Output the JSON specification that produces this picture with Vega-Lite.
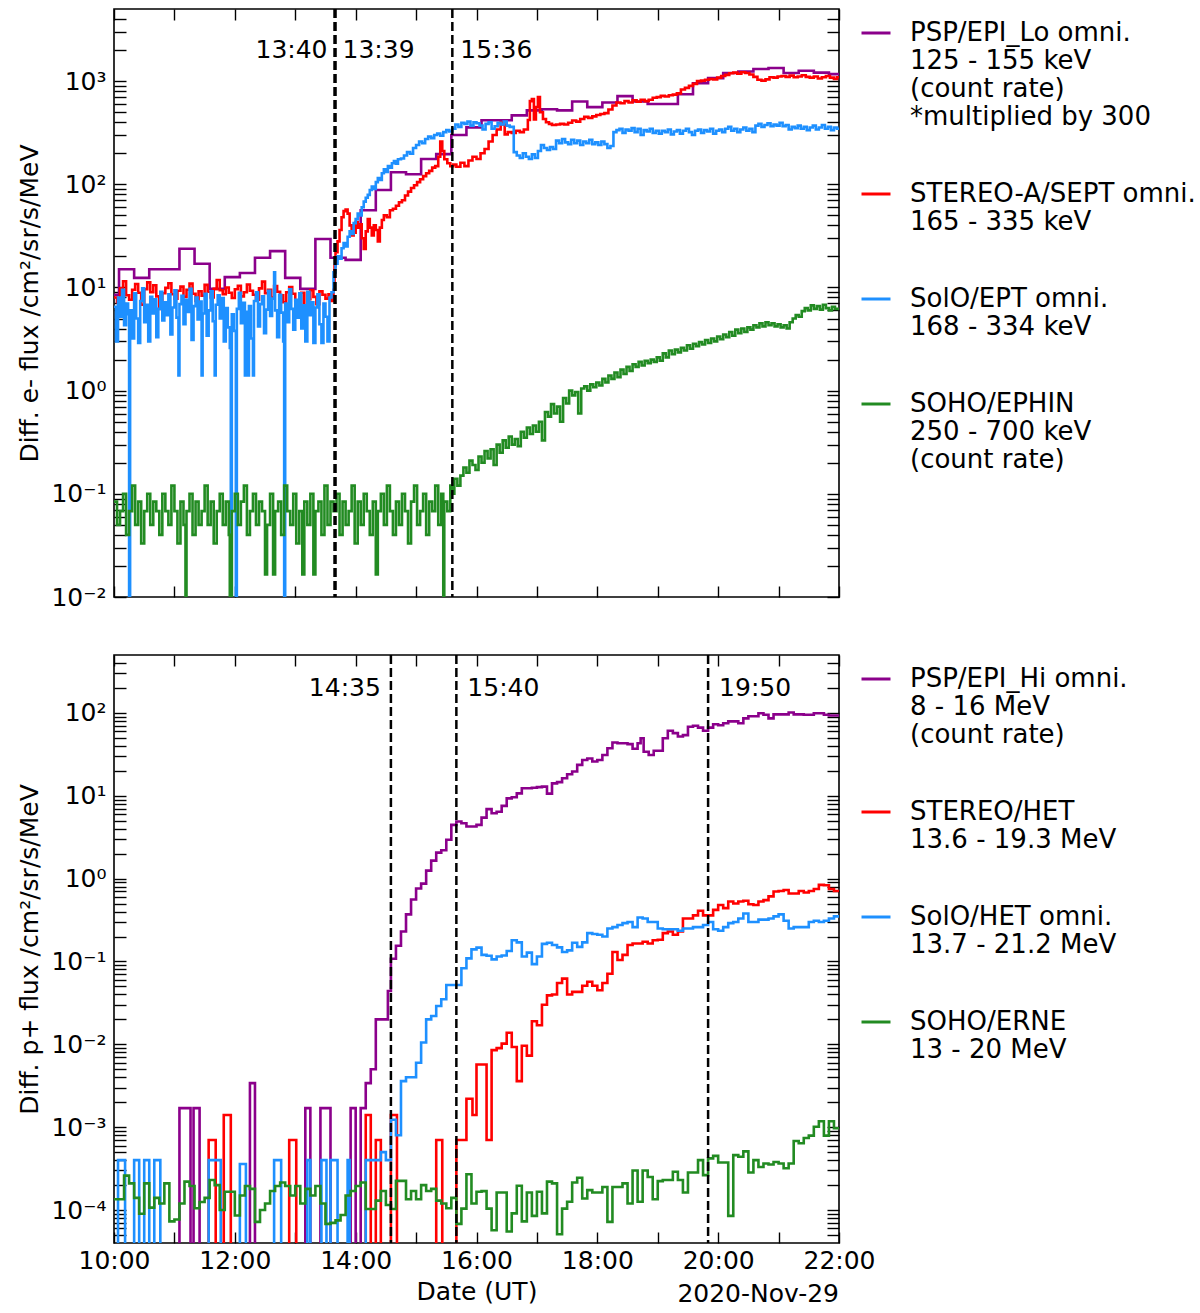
{
  "$schema": "https://vega.github.io/schema/vega-lite/v6.json",
  "padding": {"left": 17, "top": 6, "right": 0, "bottom": 0},
  "config": {
    "font": "DejaVu Sans",
    "view": {"stroke": "black", "strokeWidth": 1.6},
    "axis": {
      "labelFont": "DejaVu Sans", "titleFont": "DejaVu Sans",
      "labelFontSize": 25, "titleFontSize": 25, "titleFontWeight": "normal",
      "labelColor": "black", "titleColor": "black", "tickColor": "black",
      "tickWidth": 1.4, "domain": false, "grid": false, "labelFlush": false
    },
    "legend": {
      "orient": "right", "offset": 12, "padding": 8,
      "symbolType": "stroke", "symbolSize": 841, "symbolStrokeWidth": 3,
      "labelFont": "DejaVu Sans", "labelFontSize": 26, "labelColor": "black",
      "labelLimit": 400, "rowPadding": 48, "labelOffset": 18
    }
  },
  "datasets": {
    "top": [
      {"s":"P","t":"10:00","v":8.5},{"s":"P","t":"10:05","v":15},{"s":"P","t":"10:20","v":12.4},{"s":"P","t":"10:35","v":15},
      {"s":"P","t":"11:05","v":23.7},{"s":"P","t":"11:20","v":17},{"s":"P","t":"11:35","v":9.7},{"s":"P","t":"11:50","v":12.6},
      {"s":"P","t":"12:05","v":13.8},{"s":"P","t":"12:20","v":19.4},{"s":"P","t":"12:35","v":22.5},{"s":"P","t":"12:50","v":12.4},
      {"s":"P","t":"13:05","v":9.7},{"s":"P","t":"13:20","v":29.5},{"s":"P","t":"13:35","v":19.4},{"s":"P","t":"13:50","v":18.5},
      {"s":"P","t":"14:05","v":56},{"s":"P","t":"14:20","v":88},{"s":"P","t":"14:35","v":131},{"s":"P","t":"14:50","v":125},
      {"s":"P","t":"15:05","v":176},{"s":"P","t":"15:20","v":196},{"s":"P","t":"15:35","v":300},{"s":"P","t":"15:50","v":356},
      {"s":"P","t":"16:05","v":418},{"s":"P","t":"16:35","v":466},{"s":"P","t":"16:50","v":520},{"s":"P","t":"17:05","v":534},
      {"s":"P","t":"17:20","v":520},{"s":"P","t":"17:35","v":635},{"s":"P","t":"17:50","v":560},{"s":"P","t":"18:05","v":620},
      {"s":"P","t":"18:20","v":715},{"s":"P","t":"18:35","v":635},{"s":"P","t":"18:50","v":600},{"s":"P","t":"19:20","v":745},
      {"s":"P","t":"19:35","v":955},{"s":"P","t":"19:50","v":1070},{"s":"P","t":"20:05","v":1200},{"s":"P","t":"20:20","v":1240},
      {"s":"P","t":"20:35","v":1310},{"s":"P","t":"20:50","v":1340},{"s":"P","t":"21:05","v":1200},{"s":"P","t":"21:20","v":1260},
      {"s":"P","t":"21:35","v":1210},{"s":"P","t":"21:50","v":1170},{"s":"P","t":"22:00","v":1170},

      {"s":"R","t":"10:00","v":8.0},{"s":"R","t":"10:03","v":7.2},{"s":"R","t":"10:06","v":9.8},{"s":"R","t":"10:09","v":11.5},
      {"s":"R","t":"10:12","v":8.4},{"s":"R","t":"10:15","v":7.6},{"s":"R","t":"10:18","v":9.5},{"s":"R","t":"10:21","v":10.8},
      {"s":"R","t":"10:24","v":8.9},{"s":"R","t":"10:27","v":6.8},{"s":"R","t":"10:30","v":9.6},{"s":"R","t":"10:33","v":11.2},
      {"s":"R","t":"10:36","v":9.0},{"s":"R","t":"10:39","v":10.5},{"s":"R","t":"10:42","v":8.2},{"s":"R","t":"10:45","v":6.2},
      {"s":"R","t":"10:48","v":8.8},{"s":"R","t":"10:51","v":9.9},{"s":"R","t":"10:54","v":11.0},{"s":"R","t":"10:57","v":8.6},
      {"s":"R","t":"11:00","v":7.8},{"s":"R","t":"11:03","v":9.3},{"s":"R","t":"11:06","v":10.2},{"s":"R","t":"11:09","v":8.1},
      {"s":"R","t":"11:12","v":9.5},{"s":"R","t":"11:15","v":10.9},{"s":"R","t":"11:18","v":8.7},{"s":"R","t":"11:21","v":7.4},
      {"s":"R","t":"11:24","v":9.2},{"s":"R","t":"11:27","v":8.3},{"s":"R","t":"11:30","v":10.6},{"s":"R","t":"11:33","v":9.1},
      {"s":"R","t":"11:36","v":8.0},{"s":"R","t":"11:39","v":9.7},{"s":"R","t":"11:42","v":11.8},{"s":"R","t":"11:45","v":9.4},
      {"s":"R","t":"11:48","v":8.6},{"s":"R","t":"11:51","v":10.0},{"s":"R","t":"11:54","v":8.9},{"s":"R","t":"11:57","v":7.9},
      {"s":"R","t":"12:00","v":9.6},{"s":"R","t":"12:03","v":10.4},{"s":"R","t":"12:06","v":8.2},{"s":"R","t":"12:09","v":9.0},
      {"s":"R","t":"12:12","v":10.7},{"s":"R","t":"12:15","v":9.3},{"s":"R","t":"12:18","v":8.5},{"s":"R","t":"12:21","v":7.6},
      {"s":"R","t":"12:24","v":9.8},{"s":"R","t":"12:27","v":11.4},{"s":"R","t":"12:30","v":8.8},{"s":"R","t":"12:33","v":9.5},
      {"s":"R","t":"12:36","v":8.0},{"s":"R","t":"12:39","v":10.3},{"s":"R","t":"12:42","v":9.1},{"s":"R","t":"12:45","v":8.4},
      {"s":"R","t":"12:48","v":7.2},{"s":"R","t":"12:51","v":9.0},{"s":"R","t":"12:54","v":10.1},{"s":"R","t":"12:57","v":8.7},
      {"s":"R","t":"13:00","v":7.5},{"s":"R","t":"13:03","v":6.4},{"s":"R","t":"13:06","v":8.9},{"s":"R","t":"13:09","v":5.8},
      {"s":"R","t":"13:12","v":7.7},{"s":"R","t":"13:15","v":9.4},{"s":"R","t":"13:18","v":8.1},{"s":"R","t":"13:21","v":6.9},
      {"s":"R","t":"13:24","v":9.2},{"s":"R","t":"13:27","v":8.5},{"s":"R","t":"13:30","v":7.8},{"s":"R","t":"13:33","v":8.6},
      {"s":"R","t":"13:36","v":7.4},{"s":"R","t":"13:38","v":9.5},{"s":"R","t":"13:39","v":16},{"s":"R","t":"13:40","v":22},
      {"s":"R","t":"13:42","v":28},{"s":"R","t":"13:44","v":36},{"s":"R","t":"13:46","v":48},{"s":"R","t":"13:48","v":55},
      {"s":"R","t":"13:50","v":57},{"s":"R","t":"13:52","v":52},{"s":"R","t":"13:54","v":40},{"s":"R","t":"13:56","v":32},
      {"s":"R","t":"13:58","v":34},{"s":"R","t":"14:00","v":43},{"s":"R","t":"14:02","v":38},{"s":"R","t":"14:04","v":41},
      {"s":"R","t":"14:06","v":30},{"s":"R","t":"14:08","v":23.6},{"s":"R","t":"14:10","v":35},{"s":"R","t":"14:12","v":46},
      {"s":"R","t":"14:14","v":38},{"s":"R","t":"14:16","v":32},{"s":"R","t":"14:18","v":40},{"s":"R","t":"14:20","v":36},
      {"s":"R","t":"14:22","v":28},{"s":"R","t":"14:24","v":38},{"s":"R","t":"14:26","v":45},{"s":"R","t":"14:28","v":50},
      {"s":"R","t":"14:31","v":48},{"s":"R","t":"14:34","v":56},{"s":"R","t":"14:37","v":58},{"s":"R","t":"14:40","v":62},
      {"s":"R","t":"14:43","v":67},{"s":"R","t":"14:46","v":70},{"s":"R","t":"14:49","v":78},{"s":"R","t":"14:52","v":85},
      {"s":"R","t":"14:55","v":92},{"s":"R","t":"14:58","v":98},{"s":"R","t":"15:01","v":105},{"s":"R","t":"15:04","v":112},
      {"s":"R","t":"15:07","v":120},{"s":"R","t":"15:10","v":128},{"s":"R","t":"15:13","v":135},{"s":"R","t":"15:16","v":145},
      {"s":"R","t":"15:19","v":150},{"s":"R","t":"15:22","v":185},{"s":"R","t":"15:24","v":260},{"s":"R","t":"15:26","v":210},
      {"s":"R","t":"15:28","v":175},{"s":"R","t":"15:31","v":160},{"s":"R","t":"15:34","v":150},{"s":"R","t":"15:37","v":155},
      {"s":"R","t":"15:40","v":148},{"s":"R","t":"15:44","v":162},{"s":"R","t":"15:48","v":150},{"s":"R","t":"15:52","v":170},
      {"s":"R","t":"15:56","v":185},{"s":"R","t":"16:00","v":176},{"s":"R","t":"16:04","v":200},{"s":"R","t":"16:08","v":220},
      {"s":"R","t":"16:12","v":260},{"s":"R","t":"16:16","v":300},{"s":"R","t":"16:20","v":340},{"s":"R","t":"16:24","v":400},
      {"s":"R","t":"16:26","v":380},{"s":"R","t":"16:28","v":305},{"s":"R","t":"16:31","v":320},{"s":"R","t":"16:35","v":315},
      {"s":"R","t":"16:39","v":330},{"s":"R","t":"16:43","v":320},{"s":"R","t":"16:47","v":340},{"s":"R","t":"16:51","v":420},
      {"s":"R","t":"16:53","v":640},{"s":"R","t":"16:55","v":670},{"s":"R","t":"16:57","v":425},{"s":"R","t":"16:59","v":560},
      {"s":"R","t":"17:01","v":700},{"s":"R","t":"17:03","v":500},{"s":"R","t":"17:06","v":430},{"s":"R","t":"17:09","v":400},
      {"s":"R","t":"17:12","v":385},{"s":"R","t":"17:15","v":375},{"s":"R","t":"17:19","v":380},{"s":"R","t":"17:23","v":385},
      {"s":"R","t":"17:27","v":380},{"s":"R","t":"17:31","v":395},{"s":"R","t":"17:35","v":415},{"s":"R","t":"17:39","v":405},
      {"s":"R","t":"17:43","v":430},{"s":"R","t":"17:47","v":450},{"s":"R","t":"17:51","v":440},{"s":"R","t":"17:55","v":455},
      {"s":"R","t":"17:59","v":470},{"s":"R","t":"18:03","v":480},{"s":"R","t":"18:07","v":490},{"s":"R","t":"18:11","v":530},
      {"s":"R","t":"18:15","v":580},{"s":"R","t":"18:19","v":620},{"s":"R","t":"18:23","v":610},{"s":"R","t":"18:27","v":640},
      {"s":"R","t":"18:31","v":620},{"s":"R","t":"18:35","v":650},{"s":"R","t":"18:39","v":630},{"s":"R","t":"18:43","v":660},
      {"s":"R","t":"18:47","v":640},{"s":"R","t":"18:51","v":660},{"s":"R","t":"18:55","v":690},{"s":"R","t":"18:59","v":700},
      {"s":"R","t":"19:03","v":720},{"s":"R","t":"19:07","v":710},{"s":"R","t":"19:11","v":730},{"s":"R","t":"19:15","v":740},
      {"s":"R","t":"19:19","v":760},{"s":"R","t":"19:23","v":830},{"s":"R","t":"19:27","v":860},{"s":"R","t":"19:31","v":900},
      {"s":"R","t":"19:35","v":940},{"s":"R","t":"19:39","v":1000},{"s":"R","t":"19:43","v":1010},{"s":"R","t":"19:47","v":1030},
      {"s":"R","t":"19:51","v":1050},{"s":"R","t":"19:55","v":1040},{"s":"R","t":"19:59","v":1080},{"s":"R","t":"20:03","v":1120},
      {"s":"R","t":"20:07","v":1150},{"s":"R","t":"20:11","v":1190},{"s":"R","t":"20:15","v":1210},{"s":"R","t":"20:19","v":1180},
      {"s":"R","t":"20:23","v":1220},{"s":"R","t":"20:27","v":1200},{"s":"R","t":"20:31","v":1160},{"s":"R","t":"20:35","v":1100},
      {"s":"R","t":"20:39","v":1030},{"s":"R","t":"20:43","v":1010},{"s":"R","t":"20:47","v":1040},{"s":"R","t":"20:51","v":1090},
      {"s":"R","t":"20:55","v":1080},{"s":"R","t":"20:59","v":1110},{"s":"R","t":"21:03","v":1120},{"s":"R","t":"21:07","v":1100},
      {"s":"R","t":"21:11","v":1130},{"s":"R","t":"21:15","v":1090},{"s":"R","t":"21:19","v":1110},{"s":"R","t":"21:23","v":1140},
      {"s":"R","t":"21:27","v":1100},{"s":"R","t":"21:31","v":1080},{"s":"R","t":"21:35","v":1110},{"s":"R","t":"21:39","v":1060},
      {"s":"R","t":"21:43","v":1090},{"s":"R","t":"21:47","v":1120},{"s":"R","t":"21:51","v":1080},{"s":"R","t":"21:55","v":1050},
      {"s":"R","t":"21:58","v":1090},{"s":"R","t":"22:00","v":1080},

      {"s":"B","t":"10:00","v":6.5},{"s":"B","t":"10:02","v":3.0},{"s":"B","t":"10:04","v":8.0},{"s":"B","t":"10:06","v":5.2},
      {"s":"B","t":"10:08","v":9.5},{"s":"B","t":"10:10","v":4.3},{"s":"B","t":"10:12","v":7.0},{"s":"B","t":"10:14","v":5.5},
      {"s":"B","t":"10:15","v":1e-9},{"s":"B","t":"10:16","v":6.0},{"s":"B","t":"10:18","v":3.2},{"s":"B","t":"10:20","v":8.8},
      {"s":"B","t":"10:22","v":5.0},{"s":"B","t":"10:24","v":2.9},{"s":"B","t":"10:26","v":7.4},{"s":"B","t":"10:28","v":9.8},
      {"s":"B","t":"10:30","v":4.6},{"s":"B","t":"10:32","v":6.8},{"s":"B","t":"10:34","v":3.0},{"s":"B","t":"10:36","v":8.1},
      {"s":"B","t":"10:38","v":5.6},{"s":"B","t":"10:40","v":7.7},{"s":"B","t":"10:42","v":3.3},{"s":"B","t":"10:44","v":6.2},
      {"s":"B","t":"10:46","v":9.1},{"s":"B","t":"10:48","v":4.8},{"s":"B","t":"10:50","v":7.2},{"s":"B","t":"10:52","v":5.4},
      {"s":"B","t":"10:54","v":8.6},{"s":"B","t":"10:56","v":3.5},{"s":"B","t":"10:58","v":6.4},{"s":"B","t":"11:00","v":9.4},
      {"s":"B","t":"11:02","v":5.1},{"s":"B","t":"11:04","v":1.4},{"s":"B","t":"11:05","v":6.9},{"s":"B","t":"11:07","v":8.3},
      {"s":"B","t":"11:09","v":4.4},{"s":"B","t":"11:11","v":7.6},{"s":"B","t":"11:13","v":5.8},{"s":"B","t":"11:15","v":9.7},
      {"s":"B","t":"11:17","v":3.1},{"s":"B","t":"11:19","v":6.6},{"s":"B","t":"11:21","v":8.0},{"s":"B","t":"11:23","v":4.9},
      {"s":"B","t":"11:25","v":7.3},{"s":"B","t":"11:27","v":1.4},{"s":"B","t":"11:28","v":5.6},{"s":"B","t":"11:30","v":8.7},
      {"s":"B","t":"11:32","v":3.4},{"s":"B","t":"11:34","v":6.0},{"s":"B","t":"11:36","v":9.2},{"s":"B","t":"11:38","v":4.7},
      {"s":"B","t":"11:40","v":1.4},{"s":"B","t":"11:41","v":6.8},{"s":"B","t":"11:43","v":8.4},{"s":"B","t":"11:45","v":5.0},
      {"s":"B","t":"11:47","v":7.9},{"s":"B","t":"11:49","v":3.0},{"s":"B","t":"11:51","v":6.3},{"s":"B","t":"11:53","v":4.1},
      {"s":"B","t":"11:55","v":2.6},{"s":"B","t":"11:56","v":1e-9},{"s":"B","t":"11:57","v":5.5},{"s":"B","t":"11:59","v":3.8},
      {"s":"B","t":"12:01","v":1e-9},{"s":"B","t":"12:02","v":6.2},{"s":"B","t":"12:04","v":8.9},{"s":"B","t":"12:06","v":4.5},
      {"s":"B","t":"12:08","v":7.1},{"s":"B","t":"12:10","v":1.4},{"s":"B","t":"12:11","v":5.8},{"s":"B","t":"12:13","v":1.4},
      {"s":"B","t":"12:14","v":6.6},{"s":"B","t":"12:16","v":3.2},{"s":"B","t":"12:18","v":1.4},{"s":"B","t":"12:19","v":7.4},
      {"s":"B","t":"12:21","v":9.0},{"s":"B","t":"12:23","v":4.2},{"s":"B","t":"12:25","v":6.9},{"s":"B","t":"12:27","v":8.2},
      {"s":"B","t":"12:29","v":3.6},{"s":"B","t":"12:31","v":6.1},{"s":"B","t":"12:33","v":9.3},{"s":"B","t":"12:35","v":5.3},
      {"s":"B","t":"12:37","v":7.8},{"s":"B","t":"12:39","v":14},{"s":"B","t":"12:40","v":6.0},{"s":"B","t":"12:42","v":3.3},
      {"s":"B","t":"12:44","v":8.5},{"s":"B","t":"12:46","v":5.7},{"s":"B","t":"12:48","v":3.0},{"s":"B","t":"12:49","v":1e-9},
      {"s":"B","t":"12:50","v":7.0},{"s":"B","t":"12:52","v":4.6},{"s":"B","t":"12:54","v":9.6},{"s":"B","t":"12:56","v":6.2},
      {"s":"B","t":"12:58","v":3.9},{"s":"B","t":"13:00","v":7.6},{"s":"B","t":"13:02","v":5.1},{"s":"B","t":"13:04","v":8.8},
      {"s":"B","t":"13:06","v":4.0},{"s":"B","t":"13:08","v":6.7},{"s":"B","t":"13:10","v":3.0},{"s":"B","t":"13:12","v":9.1},
      {"s":"B","t":"13:14","v":5.4},{"s":"B","t":"13:16","v":7.2},{"s":"B","t":"13:18","v":2.9},{"s":"B","t":"13:20","v":6.4},
      {"s":"B","t":"13:22","v":8.6},{"s":"B","t":"13:24","v":4.4},{"s":"B","t":"13:26","v":2.9},{"s":"B","t":"13:28","v":7.0},
      {"s":"B","t":"13:30","v":5.2},{"s":"B","t":"13:32","v":3.0},{"s":"B","t":"13:34","v":8.0},{"s":"B","t":"13:36","v":9},
      {"s":"B","t":"13:38","v":14},{"s":"B","t":"13:40","v":17},{"s":"B","t":"13:42","v":20},{"s":"B","t":"13:44","v":19},
      {"s":"B","t":"13:46","v":24},{"s":"B","t":"13:48","v":27},{"s":"B","t":"13:50","v":25},{"s":"B","t":"13:52","v":31},
      {"s":"B","t":"13:54","v":35},{"s":"B","t":"13:56","v":33},{"s":"B","t":"13:58","v":42},{"s":"B","t":"14:00","v":46},
      {"s":"B","t":"14:02","v":52},{"s":"B","t":"14:04","v":50},{"s":"B","t":"14:06","v":60},{"s":"B","t":"14:08","v":68},
      {"s":"B","t":"14:10","v":74},{"s":"B","t":"14:12","v":79},{"s":"B","t":"14:14","v":88},{"s":"B","t":"14:16","v":95},
      {"s":"B","t":"14:18","v":90},{"s":"B","t":"14:20","v":105},{"s":"B","t":"14:22","v":115},{"s":"B","t":"14:24","v":110},
      {"s":"B","t":"14:26","v":128},{"s":"B","t":"14:28","v":140},{"s":"B","t":"14:30","v":132},{"s":"B","t":"14:32","v":150},
      {"s":"B","t":"14:34","v":145},{"s":"B","t":"14:36","v":160},{"s":"B","t":"14:38","v":168},{"s":"B","t":"14:40","v":158},
      {"s":"B","t":"14:42","v":175},{"s":"B","t":"14:45","v":178},{"s":"B","t":"14:48","v":190},{"s":"B","t":"14:51","v":205},
      {"s":"B","t":"14:54","v":198},{"s":"B","t":"14:57","v":225},{"s":"B","t":"15:00","v":240},{"s":"B","t":"15:03","v":260},
      {"s":"B","t":"15:06","v":250},{"s":"B","t":"15:09","v":275},{"s":"B","t":"15:12","v":290},{"s":"B","t":"15:15","v":280},
      {"s":"B","t":"15:18","v":300},{"s":"B","t":"15:21","v":310},{"s":"B","t":"15:24","v":295},{"s":"B","t":"15:27","v":320},
      {"s":"B","t":"15:30","v":335},{"s":"B","t":"15:33","v":325},{"s":"B","t":"15:36","v":345},{"s":"B","t":"15:39","v":380},
      {"s":"B","t":"15:42","v":360},{"s":"B","t":"15:45","v":395},{"s":"B","t":"15:48","v":385},{"s":"B","t":"15:51","v":405},
      {"s":"B","t":"15:54","v":370},{"s":"B","t":"15:57","v":400},{"s":"B","t":"16:00","v":390},{"s":"B","t":"16:03","v":370},
      {"s":"B","t":"16:06","v":340},{"s":"B","t":"16:09","v":385},{"s":"B","t":"16:12","v":400},{"s":"B","t":"16:15","v":345},
      {"s":"B","t":"16:18","v":365},{"s":"B","t":"16:21","v":395},{"s":"B","t":"16:24","v":380},{"s":"B","t":"16:27","v":405},
      {"s":"B","t":"16:30","v":370},{"s":"B","t":"16:33","v":360},{"s":"B","t":"16:37","v":205},{"s":"B","t":"16:40","v":190},
      {"s":"B","t":"16:43","v":180},{"s":"B","t":"16:46","v":200},{"s":"B","t":"16:49","v":185},{"s":"B","t":"16:52","v":176},
      {"s":"B","t":"16:55","v":195},{"s":"B","t":"16:58","v":180},{"s":"B","t":"17:01","v":210},{"s":"B","t":"17:04","v":240},
      {"s":"B","t":"17:07","v":225},{"s":"B","t":"17:10","v":215},{"s":"B","t":"17:13","v":230},{"s":"B","t":"17:16","v":220},
      {"s":"B","t":"17:19","v":265},{"s":"B","t":"17:22","v":250},{"s":"B","t":"17:25","v":275},{"s":"B","t":"17:28","v":255},
      {"s":"B","t":"17:31","v":245},{"s":"B","t":"17:34","v":270},{"s":"B","t":"17:37","v":250},{"s":"B","t":"17:40","v":265},
      {"s":"B","t":"17:43","v":240},{"s":"B","t":"17:46","v":260},{"s":"B","t":"17:49","v":250},{"s":"B","t":"17:52","v":270},
      {"s":"B","t":"17:55","v":245},{"s":"B","t":"17:58","v":255},{"s":"B","t":"18:01","v":240},{"s":"B","t":"18:04","v":260},
      {"s":"B","t":"18:07","v":245},{"s":"B","t":"18:10","v":225},{"s":"B","t":"18:13","v":235},{"s":"B","t":"18:16","v":320},
      {"s":"B","t":"18:19","v":335},{"s":"B","t":"18:22","v":345},{"s":"B","t":"18:25","v":315},{"s":"B","t":"18:28","v":340},
      {"s":"B","t":"18:31","v":330},{"s":"B","t":"18:34","v":350},{"s":"B","t":"18:37","v":320},{"s":"B","t":"18:40","v":345},
      {"s":"B","t":"18:43","v":300},{"s":"B","t":"18:46","v":335},{"s":"B","t":"18:49","v":325},{"s":"B","t":"18:52","v":345},
      {"s":"B","t":"18:55","v":315},{"s":"B","t":"18:58","v":330},{"s":"B","t":"19:01","v":310},{"s":"B","t":"19:04","v":330},
      {"s":"B","t":"19:07","v":320},{"s":"B","t":"19:10","v":340},{"s":"B","t":"19:13","v":305},{"s":"B","t":"19:16","v":325},
      {"s":"B","t":"19:19","v":335},{"s":"B","t":"19:22","v":310},{"s":"B","t":"19:25","v":330},{"s":"B","t":"19:28","v":345},
      {"s":"B","t":"19:31","v":320},{"s":"B","t":"19:34","v":300},{"s":"B","t":"19:37","v":330},{"s":"B","t":"19:40","v":340},
      {"s":"B","t":"19:43","v":315},{"s":"B","t":"19:46","v":335},{"s":"B","t":"19:49","v":325},{"s":"B","t":"19:52","v":345},
      {"s":"B","t":"19:55","v":310},{"s":"B","t":"19:58","v":330},{"s":"B","t":"20:01","v":340},{"s":"B","t":"20:04","v":320},
      {"s":"B","t":"20:07","v":345},{"s":"B","t":"20:10","v":360},{"s":"B","t":"20:13","v":330},{"s":"B","t":"20:16","v":345},
      {"s":"B","t":"20:19","v":320},{"s":"B","t":"20:22","v":340},{"s":"B","t":"20:25","v":355},{"s":"B","t":"20:28","v":330},
      {"s":"B","t":"20:31","v":345},{"s":"B","t":"20:34","v":320},{"s":"B","t":"20:37","v":370},{"s":"B","t":"20:40","v":385},
      {"s":"B","t":"20:43","v":360},{"s":"B","t":"20:46","v":375},{"s":"B","t":"20:49","v":390},{"s":"B","t":"20:52","v":365},
      {"s":"B","t":"20:55","v":380},{"s":"B","t":"20:58","v":370},{"s":"B","t":"21:01","v":395},{"s":"B","t":"21:04","v":365},
      {"s":"B","t":"21:07","v":375},{"s":"B","t":"21:10","v":340},{"s":"B","t":"21:13","v":360},{"s":"B","t":"21:16","v":350},
      {"s":"B","t":"21:19","v":370},{"s":"B","t":"21:22","v":345},{"s":"B","t":"21:25","v":360},{"s":"B","t":"21:28","v":335},
      {"s":"B","t":"21:31","v":355},{"s":"B","t":"21:34","v":370},{"s":"B","t":"21:37","v":340},{"s":"B","t":"21:40","v":355},
      {"s":"B","t":"21:43","v":375},{"s":"B","t":"21:46","v":345},{"s":"B","t":"21:49","v":360},{"s":"B","t":"21:52","v":335},
      {"s":"B","t":"21:55","v":355},{"s":"B","t":"21:58","v":345},{"s":"B","t":"22:00","v":350},

      {"s":"G","t":"10:00","v":0.084},{"s":"G","t":"10:03","v":0.05},{"s":"G","t":"10:06","v":0.068},{"s":"G","t":"10:09","v":0.1},
      {"s":"G","t":"10:12","v":0.04},{"s":"G","t":"10:15","v":0.068},{"s":"G","t":"10:18","v":0.12},{"s":"G","t":"10:21","v":0.05},
      {"s":"G","t":"10:24","v":0.084},{"s":"G","t":"10:27","v":0.033},{"s":"G","t":"10:30","v":0.068},{"s":"G","t":"10:33","v":0.1},
      {"s":"G","t":"10:36","v":0.05},{"s":"G","t":"10:39","v":0.084},{"s":"G","t":"10:42","v":0.068},{"s":"G","t":"10:45","v":0.04},
      {"s":"G","t":"10:48","v":0.1},{"s":"G","t":"10:51","v":0.068},{"s":"G","t":"10:54","v":0.05},{"s":"G","t":"10:57","v":0.12},
      {"s":"G","t":"11:00","v":0.068},{"s":"G","t":"11:03","v":0.033},{"s":"G","t":"11:06","v":0.084},{"s":"G","t":"11:09","v":0.05},
      {"s":"G","t":"11:11","v":1e-9},{"s":"G","t":"11:12","v":0.068},{"s":"G","t":"11:15","v":0.1},{"s":"G","t":"11:18","v":0.04},
      {"s":"G","t":"11:21","v":0.084},{"s":"G","t":"11:24","v":0.05},{"s":"G","t":"11:27","v":0.068},{"s":"G","t":"11:30","v":0.12},
      {"s":"G","t":"11:33","v":0.05},{"s":"G","t":"11:36","v":0.084},{"s":"G","t":"11:39","v":0.033},{"s":"G","t":"11:42","v":0.068},
      {"s":"G","t":"11:45","v":0.1},{"s":"G","t":"11:48","v":0.05},{"s":"G","t":"11:51","v":0.084},{"s":"G","t":"11:54","v":0.04},
      {"s":"G","t":"11:55","v":1e-9},{"s":"G","t":"11:57","v":0.068},{"s":"G","t":"12:00","v":0.1},{"s":"G","t":"12:03","v":0.05},
      {"s":"G","t":"12:06","v":0.084},{"s":"G","t":"12:09","v":0.12},{"s":"G","t":"12:12","v":0.04},{"s":"G","t":"12:15","v":0.068},
      {"s":"G","t":"12:18","v":0.1},{"s":"G","t":"12:21","v":0.05},{"s":"G","t":"12:24","v":0.084},{"s":"G","t":"12:27","v":0.068},
      {"s":"G","t":"12:30","v":0.0165},{"s":"G","t":"12:32","v":0.05},{"s":"G","t":"12:35","v":0.1},{"s":"G","t":"12:38","v":0.0165},
      {"s":"G","t":"12:40","v":0.068},{"s":"G","t":"12:43","v":0.084},{"s":"G","t":"12:46","v":0.04},{"s":"G","t":"12:49","v":0.12},
      {"s":"G","t":"12:52","v":0.068},{"s":"G","t":"12:55","v":0.05},{"s":"G","t":"12:58","v":0.1},{"s":"G","t":"13:01","v":0.033},
      {"s":"G","t":"13:04","v":0.068},{"s":"G","t":"13:07","v":0.0165},{"s":"G","t":"13:09","v":0.084},{"s":"G","t":"13:12","v":0.05},
      {"s":"G","t":"13:15","v":0.1},{"s":"G","t":"13:18","v":0.0165},{"s":"G","t":"13:20","v":0.068},{"s":"G","t":"13:23","v":0.084},
      {"s":"G","t":"13:26","v":0.04},{"s":"G","t":"13:29","v":0.12},{"s":"G","t":"13:32","v":0.05},{"s":"G","t":"13:35","v":0.084},
      {"s":"G","t":"13:38","v":0.068},{"s":"G","t":"13:41","v":0.1},{"s":"G","t":"13:44","v":0.04},{"s":"G","t":"13:47","v":0.084},
      {"s":"G","t":"13:50","v":0.05},{"s":"G","t":"13:53","v":0.068},{"s":"G","t":"13:56","v":0.12},{"s":"G","t":"13:59","v":0.033},
      {"s":"G","t":"14:02","v":0.084},{"s":"G","t":"14:05","v":0.05},{"s":"G","t":"14:08","v":0.1},{"s":"G","t":"14:11","v":0.068},
      {"s":"G","t":"14:14","v":0.04},{"s":"G","t":"14:17","v":0.084},{"s":"G","t":"14:20","v":0.0165},{"s":"G","t":"14:22","v":0.068},
      {"s":"G","t":"14:25","v":0.1},{"s":"G","t":"14:28","v":0.05},{"s":"G","t":"14:31","v":0.12},{"s":"G","t":"14:34","v":0.068},
      {"s":"G","t":"14:37","v":0.04},{"s":"G","t":"14:40","v":0.084},{"s":"G","t":"14:43","v":0.05},{"s":"G","t":"14:46","v":0.1},
      {"s":"G","t":"14:49","v":0.068},{"s":"G","t":"14:52","v":0.033},{"s":"G","t":"14:55","v":0.084},{"s":"G","t":"14:58","v":0.12},
      {"s":"G","t":"15:01","v":0.05},{"s":"G","t":"15:04","v":0.068},{"s":"G","t":"15:07","v":0.1},{"s":"G","t":"15:10","v":0.04},
      {"s":"G","t":"15:13","v":0.084},{"s":"G","t":"15:16","v":0.068},{"s":"G","t":"15:19","v":0.12},{"s":"G","t":"15:22","v":0.05},
      {"s":"G","t":"15:25","v":0.1},{"s":"G","t":"15:27","v":1e-9},{"s":"G","t":"15:28","v":0.084},{"s":"G","t":"15:31","v":0.068},
      {"s":"G","t":"15:34","v":0.12},{"s":"G","t":"15:36","v":0.1},{"s":"G","t":"15:38","v":0.14},{"s":"G","t":"15:41","v":0.12},
      {"s":"G","t":"15:44","v":0.15},{"s":"G","t":"15:47","v":0.18},{"s":"G","t":"15:50","v":0.16},{"s":"G","t":"15:53","v":0.21},
      {"s":"G","t":"15:56","v":0.19},{"s":"G","t":"15:59","v":0.17},{"s":"G","t":"16:02","v":0.23},{"s":"G","t":"16:05","v":0.2},
      {"s":"G","t":"16:08","v":0.26},{"s":"G","t":"16:11","v":0.22},{"s":"G","t":"16:14","v":0.27},{"s":"G","t":"16:17","v":0.19},
      {"s":"G","t":"16:20","v":0.3},{"s":"G","t":"16:23","v":0.25},{"s":"G","t":"16:26","v":0.33},{"s":"G","t":"16:29","v":0.28},
      {"s":"G","t":"16:32","v":0.36},{"s":"G","t":"16:35","v":0.3},{"s":"G","t":"16:38","v":0.34},{"s":"G","t":"16:41","v":0.29},
      {"s":"G","t":"16:44","v":0.4},{"s":"G","t":"16:47","v":0.35},{"s":"G","t":"16:50","v":0.44},{"s":"G","t":"16:53","v":0.38},
      {"s":"G","t":"16:56","v":0.46},{"s":"G","t":"16:59","v":0.4},{"s":"G","t":"17:02","v":0.5},{"s":"G","t":"17:05","v":0.33},
      {"s":"G","t":"17:08","v":0.62},{"s":"G","t":"17:11","v":0.56},{"s":"G","t":"17:14","v":0.74},{"s":"G","t":"17:17","v":0.6},
      {"s":"G","t":"17:20","v":0.7},{"s":"G","t":"17:23","v":0.5},{"s":"G","t":"17:26","v":0.85},{"s":"G","t":"17:29","v":0.75},
      {"s":"G","t":"17:32","v":1.0},{"s":"G","t":"17:35","v":0.9},{"s":"G","t":"17:38","v":0.97},{"s":"G","t":"17:41","v":0.6},
      {"s":"G","t":"17:44","v":1.05},{"s":"G","t":"17:47","v":1.1},{"s":"G","t":"17:50","v":1.0},{"s":"G","t":"17:53","v":1.15},
      {"s":"G","t":"17:56","v":1.08},{"s":"G","t":"17:59","v":1.2},{"s":"G","t":"18:02","v":1.12},{"s":"G","t":"18:05","v":1.3},
      {"s":"G","t":"18:08","v":1.2},{"s":"G","t":"18:11","v":1.4},{"s":"G","t":"18:14","v":1.3},{"s":"G","t":"18:17","v":1.5},
      {"s":"G","t":"18:20","v":1.35},{"s":"G","t":"18:23","v":1.6},{"s":"G","t":"18:26","v":1.45},{"s":"G","t":"18:29","v":1.7},
      {"s":"G","t":"18:32","v":1.55},{"s":"G","t":"18:35","v":1.8},{"s":"G","t":"18:38","v":1.7},{"s":"G","t":"18:41","v":1.9},
      {"s":"G","t":"18:44","v":1.75},{"s":"G","t":"18:47","v":1.95},{"s":"G","t":"18:50","v":1.85},{"s":"G","t":"18:53","v":2.0},
      {"s":"G","t":"18:56","v":1.9},{"s":"G","t":"18:59","v":2.1},{"s":"G","t":"19:02","v":1.95},{"s":"G","t":"19:05","v":2.3},
      {"s":"G","t":"19:08","v":2.1},{"s":"G","t":"19:11","v":2.45},{"s":"G","t":"19:14","v":2.25},{"s":"G","t":"19:17","v":2.5},
      {"s":"G","t":"19:20","v":2.35},{"s":"G","t":"19:23","v":2.6},{"s":"G","t":"19:26","v":2.45},{"s":"G","t":"19:29","v":2.75},
      {"s":"G","t":"19:32","v":2.55},{"s":"G","t":"19:35","v":2.85},{"s":"G","t":"19:38","v":2.7},{"s":"G","t":"19:41","v":2.95},
      {"s":"G","t":"19:44","v":2.8},{"s":"G","t":"19:47","v":3.1},{"s":"G","t":"19:50","v":2.9},{"s":"G","t":"19:53","v":3.2},
      {"s":"G","t":"19:56","v":3.0},{"s":"G","t":"19:59","v":3.35},{"s":"G","t":"20:02","v":3.15},{"s":"G","t":"20:05","v":3.5},
      {"s":"G","t":"20:08","v":3.3},{"s":"G","t":"20:11","v":3.7},{"s":"G","t":"20:14","v":3.4},{"s":"G","t":"20:17","v":3.9},
      {"s":"G","t":"20:20","v":3.6},{"s":"G","t":"20:23","v":4.0},{"s":"G","t":"20:26","v":3.7},{"s":"G","t":"20:29","v":4.1},
      {"s":"G","t":"20:32","v":3.9},{"s":"G","t":"20:35","v":4.3},{"s":"G","t":"20:38","v":4.1},{"s":"G","t":"20:41","v":4.5},
      {"s":"G","t":"20:44","v":4.2},{"s":"G","t":"20:47","v":4.6},{"s":"G","t":"20:50","v":4.3},{"s":"G","t":"20:53","v":4.5},
      {"s":"G","t":"20:56","v":4.2},{"s":"G","t":"20:59","v":4.4},{"s":"G","t":"21:02","v":4.1},{"s":"G","t":"21:05","v":4.3},
      {"s":"G","t":"21:08","v":4.0},{"s":"G","t":"21:11","v":4.6},{"s":"G","t":"21:14","v":5.0},{"s":"G","t":"21:17","v":5.4},
      {"s":"G","t":"21:20","v":5.2},{"s":"G","t":"21:23","v":5.9},{"s":"G","t":"21:26","v":6.3},{"s":"G","t":"21:29","v":6.0},
      {"s":"G","t":"21:32","v":6.7},{"s":"G","t":"21:35","v":6.2},{"s":"G","t":"21:38","v":6.6},{"s":"G","t":"21:41","v":6.1},
      {"s":"G","t":"21:44","v":6.8},{"s":"G","t":"21:47","v":6.3},{"s":"G","t":"21:50","v":6.0},{"s":"G","t":"21:53","v":6.5},
      {"s":"G","t":"21:56","v":6.2},{"s":"G","t":"22:00","v":6.3}
    ],
    "bot": [
      {"s":"P","t":"10:00","v":1e-9},{"s":"P","t":"11:05","v":0.0017},{"s":"P","t":"11:16","v":1e-9},{"s":"P","t":"11:19","v":0.0017},
      {"s":"P","t":"11:25","v":1e-9},{"s":"P","t":"12:15","v":0.0034},{"s":"P","t":"12:20","v":1e-9},{"s":"P","t":"13:10","v":0.0017},
      {"s":"P","t":"13:15","v":1e-9},{"s":"P","t":"13:25","v":0.0017},{"s":"P","t":"13:35","v":1e-9},{"s":"P","t":"13:55","v":0.0017},
      {"s":"P","t":"14:00","v":1e-9},{"s":"P","t":"14:05","v":0.0017},{"s":"P","t":"14:10","v":0.0034},{"s":"P","t":"14:15","v":0.005},
      {"s":"P","t":"14:20","v":0.02},{"s":"P","t":"14:32","v":0.044},{"s":"P","t":"14:35","v":0.108},{"s":"P","t":"14:40","v":0.155},
      {"s":"P","t":"14:45","v":0.23},{"s":"P","t":"14:50","v":0.37},{"s":"P","t":"14:55","v":0.56},{"s":"P","t":"15:00","v":0.76},
      {"s":"P","t":"15:05","v":0.87},{"s":"P","t":"15:10","v":1.25},{"s":"P","t":"15:15","v":1.65},{"s":"P","t":"15:20","v":2.06},
      {"s":"P","t":"15:25","v":2.2},{"s":"P","t":"15:30","v":2.95},{"s":"P","t":"15:35","v":4.45},{"s":"P","t":"15:40","v":4.9},
      {"s":"P","t":"15:45","v":4.66},{"s":"P","t":"15:50","v":4.25},{"s":"P","t":"16:00","v":4.45},{"s":"P","t":"16:05","v":5.45},
      {"s":"P","t":"16:10","v":6.9},{"s":"P","t":"16:15","v":6.15},{"s":"P","t":"16:20","v":6.4},{"s":"P","t":"16:25","v":7.55},
      {"s":"P","t":"16:30","v":9.3},{"s":"P","t":"16:35","v":9.6},{"s":"P","t":"16:40","v":10.7},{"s":"P","t":"16:45","v":12.3},
      {"s":"P","t":"16:55","v":12.5},{"s":"P","t":"17:00","v":12.7},{"s":"P","t":"17:05","v":12.9},{"s":"P","t":"17:10","v":10.6},
      {"s":"P","t":"17:15","v":14.1},{"s":"P","t":"17:20","v":14.6},{"s":"P","t":"17:25","v":16.3},{"s":"P","t":"17:30","v":18.2},
      {"s":"P","t":"17:35","v":19.6},{"s":"P","t":"17:40","v":23.6},{"s":"P","t":"17:45","v":27},{"s":"P","t":"17:50","v":28.2},
      {"s":"P","t":"17:55","v":25.9},{"s":"P","t":"18:00","v":27},{"s":"P","t":"18:05","v":31},{"s":"P","t":"18:10","v":37.5},
      {"s":"P","t":"18:15","v":44},{"s":"P","t":"18:20","v":43},{"s":"P","t":"18:30","v":42},{"s":"P","t":"18:35","v":37},
      {"s":"P","t":"18:40","v":43},{"s":"P","t":"18:43","v":49.5},{"s":"P","t":"18:46","v":34},{"s":"P","t":"18:51","v":31},
      {"s":"P","t":"18:56","v":35},{"s":"P","t":"19:05","v":49.5},{"s":"P","t":"19:10","v":61},{"s":"P","t":"19:15","v":57},
      {"s":"P","t":"19:20","v":52},{"s":"P","t":"19:25","v":54},{"s":"P","t":"19:30","v":68},{"s":"P","t":"19:35","v":70},
      {"s":"P","t":"19:40","v":66.5},{"s":"P","t":"19:45","v":61},{"s":"P","t":"19:50","v":66.5},{"s":"P","t":"19:55","v":73},
      {"s":"P","t":"20:00","v":71},{"s":"P","t":"20:05","v":75},{"s":"P","t":"20:10","v":79},{"s":"P","t":"20:20","v":75},
      {"s":"P","t":"20:25","v":86},{"s":"P","t":"20:30","v":91},{"s":"P","t":"20:40","v":99},{"s":"P","t":"20:45","v":95},
      {"s":"P","t":"20:50","v":86},{"s":"P","t":"20:55","v":96},{"s":"P","t":"21:10","v":101},{"s":"P","t":"21:15","v":96},
      {"s":"P","t":"21:25","v":95},{"s":"P","t":"21:35","v":99},{"s":"P","t":"21:45","v":95},{"s":"P","t":"21:50","v":93},
      {"s":"P","t":"22:00","v":93},

      {"s":"R","t":"10:00","v":1e-9},{"s":"R","t":"11:34","v":0.0007},{"s":"R","t":"11:41","v":1e-9},{"s":"R","t":"11:49","v":0.0014},
      {"s":"R","t":"11:56","v":1e-9},{"s":"R","t":"12:54","v":0.0007},{"s":"R","t":"13:01","v":1e-9},{"s":"R","t":"14:10","v":0.0014},
      {"s":"R","t":"14:15","v":1e-9},{"s":"R","t":"14:20","v":0.0007},{"s":"R","t":"14:25","v":1e-9},{"s":"R","t":"14:35","v":0.0014},
      {"s":"R","t":"14:41","v":1e-9},{"s":"R","t":"15:20","v":0.0007},{"s":"R","t":"15:26","v":1e-9},{"s":"R","t":"15:40","v":0.0007},
      {"s":"R","t":"15:50","v":0.0022},{"s":"R","t":"15:56","v":0.0014},{"s":"R","t":"16:00","v":0.0057},{"s":"R","t":"16:10","v":0.0007},
      {"s":"R","t":"16:15","v":0.0085},{"s":"R","t":"16:20","v":0.009},{"s":"R","t":"16:25","v":0.0102},{"s":"R","t":"16:30","v":0.0138},
      {"s":"R","t":"16:35","v":0.0093},{"s":"R","t":"16:40","v":0.0036},{"s":"R","t":"16:45","v":0.0096},{"s":"R","t":"16:50","v":0.0073},
      {"s":"R","t":"16:55","v":0.019},{"s":"R","t":"17:00","v":0.017},{"s":"R","t":"17:05","v":0.03},{"s":"R","t":"17:10","v":0.039},
      {"s":"R","t":"17:15","v":0.04},{"s":"R","t":"17:20","v":0.055},{"s":"R","t":"17:25","v":0.062},{"s":"R","t":"17:30","v":0.04},
      {"s":"R","t":"17:35","v":0.043},{"s":"R","t":"17:45","v":0.051},{"s":"R","t":"17:50","v":0.057},{"s":"R","t":"17:55","v":0.051},
      {"s":"R","t":"18:00","v":0.045},{"s":"R","t":"18:05","v":0.055},{"s":"R","t":"18:10","v":0.071},{"s":"R","t":"18:15","v":0.13},
      {"s":"R","t":"18:20","v":0.104},{"s":"R","t":"18:25","v":0.12},{"s":"R","t":"18:30","v":0.158},{"s":"R","t":"18:35","v":0.165},
      {"s":"R","t":"18:45","v":0.173},{"s":"R","t":"18:50","v":0.165},{"s":"R","t":"18:55","v":0.18},{"s":"R","t":"19:00","v":0.183},
      {"s":"R","t":"19:05","v":0.22},{"s":"R","t":"19:10","v":0.23},{"s":"R","t":"19:15","v":0.21},{"s":"R","t":"19:20","v":0.23},
      {"s":"R","t":"19:25","v":0.33},{"s":"R","t":"19:35","v":0.36},{"s":"R","t":"19:40","v":0.41},{"s":"R","t":"19:45","v":0.36},
      {"s":"R","t":"19:55","v":0.42},{"s":"R","t":"20:00","v":0.48},{"s":"R","t":"20:05","v":0.44},{"s":"R","t":"20:10","v":0.53},
      {"s":"R","t":"20:15","v":0.5},{"s":"R","t":"20:20","v":0.53},{"s":"R","t":"20:25","v":0.54},{"s":"R","t":"20:30","v":0.49},
      {"s":"R","t":"20:35","v":0.48},{"s":"R","t":"20:40","v":0.53},{"s":"R","t":"20:45","v":0.55},{"s":"R","t":"20:50","v":0.61},
      {"s":"R","t":"20:55","v":0.7},{"s":"R","t":"21:00","v":0.71},{"s":"R","t":"21:05","v":0.73},{"s":"R","t":"21:10","v":0.66},
      {"s":"R","t":"21:20","v":0.71},{"s":"R","t":"21:25","v":0.68},{"s":"R","t":"21:30","v":0.71},{"s":"R","t":"21:35","v":0.75},
      {"s":"R","t":"21:40","v":0.84},{"s":"R","t":"21:45","v":0.83},{"s":"R","t":"21:50","v":0.75},{"s":"R","t":"21:55","v":0.71},
      {"s":"R","t":"22:00","v":0.71},

      {"s":"B","t":"10:00","v":1e-9},{"s":"B","t":"10:04","v":0.0004},{"s":"B","t":"10:11","v":1e-9},{"s":"B","t":"10:20","v":0.0004},
      {"s":"B","t":"10:25","v":1e-9},{"s":"B","t":"10:30","v":0.0004},{"s":"B","t":"10:35","v":1e-9},{"s":"B","t":"10:40","v":0.0004},
      {"s":"B","t":"10:46","v":1e-9},{"s":"B","t":"11:34","v":0.0004},{"s":"B","t":"11:46","v":1e-9},{"s":"B","t":"12:05","v":0.00036},
      {"s":"B","t":"12:11","v":1e-9},{"s":"B","t":"12:39","v":0.0004},{"s":"B","t":"12:46","v":1e-9},{"s":"B","t":"13:12","v":0.0004},
      {"s":"B","t":"13:15","v":1e-9},{"s":"B","t":"13:26","v":0.0004},{"s":"B","t":"13:31","v":1e-9},{"s":"B","t":"13:35","v":0.0004},
      {"s":"B","t":"13:42","v":1e-9},{"s":"B","t":"13:52","v":0.0004},{"s":"B","t":"13:54","v":1e-9},{"s":"B","t":"14:10","v":0.0004},
      {"s":"B","t":"14:25","v":0.0005},{"s":"B","t":"14:30","v":0.0004},{"s":"B","t":"14:35","v":0.00123},{"s":"B","t":"14:40","v":0.0008},
      {"s":"B","t":"14:45","v":0.0036},{"s":"B","t":"14:50","v":0.004},{"s":"B","t":"15:00","v":0.006},{"s":"B","t":"15:05","v":0.0105},
      {"s":"B","t":"15:10","v":0.02},{"s":"B","t":"15:15","v":0.022},{"s":"B","t":"15:20","v":0.029},{"s":"B","t":"15:25","v":0.035},
      {"s":"B","t":"15:30","v":0.052},{"s":"B","t":"15:45","v":0.083},{"s":"B","t":"15:50","v":0.109},{"s":"B","t":"15:55","v":0.14},
      {"s":"B","t":"16:00","v":0.147},{"s":"B","t":"16:05","v":0.12},{"s":"B","t":"16:10","v":0.117},{"s":"B","t":"16:15","v":0.106},
      {"s":"B","t":"16:20","v":0.115},{"s":"B","t":"16:25","v":0.118},{"s":"B","t":"16:30","v":0.134},{"s":"B","t":"16:35","v":0.18},
      {"s":"B","t":"16:40","v":0.17},{"s":"B","t":"16:45","v":0.115},{"s":"B","t":"16:50","v":0.128},{"s":"B","t":"16:55","v":0.093},
      {"s":"B","t":"17:00","v":0.115},{"s":"B","t":"17:05","v":0.163},{"s":"B","t":"17:10","v":0.168},{"s":"B","t":"17:15","v":0.158},
      {"s":"B","t":"17:20","v":0.148},{"s":"B","t":"17:25","v":0.13},{"s":"B","t":"17:30","v":0.136},{"s":"B","t":"17:35","v":0.168},
      {"s":"B","t":"17:40","v":0.15},{"s":"B","t":"17:45","v":0.17},{"s":"B","t":"17:50","v":0.22},{"s":"B","t":"17:55","v":0.215},
      {"s":"B","t":"18:00","v":0.21},{"s":"B","t":"18:05","v":0.2},{"s":"B","t":"18:10","v":0.25},{"s":"B","t":"18:15","v":0.26},
      {"s":"B","t":"18:20","v":0.275},{"s":"B","t":"18:25","v":0.29},{"s":"B","t":"18:30","v":0.3},{"s":"B","t":"18:35","v":0.26},
      {"s":"B","t":"18:40","v":0.34},{"s":"B","t":"18:45","v":0.33},{"s":"B","t":"18:50","v":0.3},{"s":"B","t":"19:00","v":0.25},
      {"s":"B","t":"19:05","v":0.245},{"s":"B","t":"19:20","v":0.235},{"s":"B","t":"19:25","v":0.25},{"s":"B","t":"19:35","v":0.26},
      {"s":"B","t":"19:45","v":0.275},{"s":"B","t":"19:50","v":0.3},{"s":"B","t":"19:55","v":0.245},{"s":"B","t":"20:00","v":0.235},
      {"s":"B","t":"20:05","v":0.26},{"s":"B","t":"20:10","v":0.29},{"s":"B","t":"20:15","v":0.3},{"s":"B","t":"20:20","v":0.33},
      {"s":"B","t":"20:25","v":0.38},{"s":"B","t":"20:30","v":0.3},{"s":"B","t":"20:40","v":0.32},{"s":"B","t":"20:50","v":0.33},
      {"s":"B","t":"20:55","v":0.35},{"s":"B","t":"21:00","v":0.37},{"s":"B","t":"21:05","v":0.31},{"s":"B","t":"21:10","v":0.25},
      {"s":"B","t":"21:15","v":0.26},{"s":"B","t":"21:30","v":0.3},{"s":"B","t":"21:35","v":0.31},{"s":"B","t":"21:40","v":0.3},
      {"s":"B","t":"21:45","v":0.31},{"s":"B","t":"21:50","v":0.33},{"s":"B","t":"21:55","v":0.35},{"s":"B","t":"22:00","v":0.35},

      {"s":"G","t":"10:00","v":0.000135},{"s":"G","t":"10:10","v":0.00026},{"s":"G","t":"10:15","v":0.00021},{"s":"G","t":"10:20","v":0.00014},
      {"s":"G","t":"10:25","v":0.00009},{"s":"G","t":"10:30","v":0.00021},{"s":"G","t":"10:35","v":0.000107},{"s":"G","t":"10:40","v":0.00014},
      {"s":"G","t":"10:45","v":0.00012},{"s":"G","t":"10:50","v":0.00021},{"s":"G","t":"10:55","v":0.000073},{"s":"G","t":"11:00","v":0.000077},
      {"s":"G","t":"11:05","v":0.00012},{"s":"G","t":"11:10","v":0.00022},{"s":"G","t":"11:15","v":0.000195},{"s":"G","t":"11:20","v":0.000105},
      {"s":"G","t":"11:25","v":0.000125},{"s":"G","t":"11:30","v":0.00014},{"s":"G","t":"11:35","v":0.00023},{"s":"G","t":"11:40","v":0.0002},
      {"s":"G","t":"11:45","v":0.0001},{"s":"G","t":"11:50","v":0.000166},{"s":"G","t":"12:00","v":0.000086},{"s":"G","t":"12:05","v":0.00015},
      {"s":"G","t":"12:10","v":0.000195},{"s":"G","t":"12:15","v":0.00018},{"s":"G","t":"12:20","v":0.000072},{"s":"G","t":"12:25","v":0.0001},
      {"s":"G","t":"12:30","v":0.00012},{"s":"G","t":"12:35","v":0.00017},{"s":"G","t":"12:40","v":0.000195},{"s":"G","t":"12:45","v":0.000215},
      {"s":"G","t":"12:50","v":0.000195},{"s":"G","t":"12:55","v":0.00015},{"s":"G","t":"13:00","v":0.000195},{"s":"G","t":"13:05","v":0.00012},
      {"s":"G","t":"13:10","v":0.00018},{"s":"G","t":"13:15","v":0.00015},{"s":"G","t":"13:20","v":0.000195},{"s":"G","t":"13:25","v":0.00012},
      {"s":"G","t":"13:30","v":0.000068},{"s":"G","t":"13:35","v":0.00007},{"s":"G","t":"13:40","v":0.000075},{"s":"G","t":"13:45","v":0.000087},
      {"s":"G","t":"13:50","v":0.00015},{"s":"G","t":"13:55","v":0.00017},{"s":"G","t":"14:00","v":0.000195},{"s":"G","t":"14:05","v":0.000215},
      {"s":"G","t":"14:10","v":0.000103},{"s":"G","t":"14:20","v":0.00013},{"s":"G","t":"14:25","v":0.00017},{"s":"G","t":"14:30","v":0.000115},
      {"s":"G","t":"14:35","v":0.000103},{"s":"G","t":"14:40","v":0.000225},{"s":"G","t":"14:50","v":0.000135},{"s":"G","t":"14:55","v":0.00017},
      {"s":"G","t":"15:00","v":0.000135},{"s":"G","t":"15:05","v":0.0002},{"s":"G","t":"15:10","v":0.00017},{"s":"G","t":"15:15","v":0.00018},
      {"s":"G","t":"15:20","v":0.00013},{"s":"G","t":"15:25","v":0.00012},{"s":"G","t":"15:30","v":0.000105},{"s":"G","t":"15:35","v":0.00014},
      {"s":"G","t":"15:40","v":0.000068},{"s":"G","t":"15:45","v":0.000104},{"s":"G","t":"15:50","v":0.00027},{"s":"G","t":"15:55","v":0.00012},
      {"s":"G","t":"16:00","v":0.000166},{"s":"G","t":"16:05","v":0.000169},{"s":"G","t":"16:10","v":0.000104},{"s":"G","t":"16:15","v":0.000057},
      {"s":"G","t":"16:20","v":0.000163},{"s":"G","t":"16:30","v":0.000055},{"s":"G","t":"16:35","v":0.000091},{"s":"G","t":"16:40","v":0.000196},
      {"s":"G","t":"16:45","v":0.000073},{"s":"G","t":"16:50","v":0.000163},{"s":"G","t":"16:55","v":0.000085},{"s":"G","t":"17:00","v":0.000166},
      {"s":"G","t":"17:05","v":0.000091},{"s":"G","t":"17:10","v":0.00022},{"s":"G","t":"17:15","v":0.00021},{"s":"G","t":"17:20","v":0.000051},
      {"s":"G","t":"17:25","v":0.000104},{"s":"G","t":"17:30","v":0.000126},{"s":"G","t":"17:35","v":0.000215},{"s":"G","t":"17:40","v":0.000245},
      {"s":"G","t":"17:45","v":0.000138},{"s":"G","t":"17:50","v":0.000174},{"s":"G","t":"17:55","v":0.000163},{"s":"G","t":"18:05","v":0.00019},
      {"s":"G","t":"18:10","v":0.000072},{"s":"G","t":"18:15","v":0.00019},{"s":"G","t":"18:25","v":0.00021},{"s":"G","t":"18:30","v":0.00012},
      {"s":"G","t":"18:35","v":0.0003},{"s":"G","t":"18:40","v":0.000126},{"s":"G","t":"18:45","v":0.0003},{"s":"G","t":"18:50","v":0.00025},
      {"s":"G","t":"18:55","v":0.000135},{"s":"G","t":"19:00","v":0.000223},{"s":"G","t":"19:05","v":0.00023},{"s":"G","t":"19:15","v":0.00029},
      {"s":"G","t":"19:20","v":0.00023},{"s":"G","t":"19:25","v":0.000163},{"s":"G","t":"19:30","v":0.000284},{"s":"G","t":"19:40","v":0.0004},
      {"s":"G","t":"19:45","v":0.000264},{"s":"G","t":"19:50","v":0.00042},{"s":"G","t":"19:55","v":0.00045},{"s":"G","t":"20:00","v":0.000375},
      {"s":"G","t":"20:10","v":0.000085},{"s":"G","t":"20:15","v":0.00046},{"s":"G","t":"20:20","v":0.00044},{"s":"G","t":"20:25","v":0.00051},
      {"s":"G","t":"20:30","v":0.000284},{"s":"G","t":"20:35","v":0.0004},{"s":"G","t":"20:40","v":0.00033},{"s":"G","t":"20:45","v":0.000365},
      {"s":"G","t":"20:50","v":0.000355},{"s":"G","t":"20:55","v":0.00038},{"s":"G","t":"21:00","v":0.000365},{"s":"G","t":"21:05","v":0.00032},
      {"s":"G","t":"21:10","v":0.000365},{"s":"G","t":"21:15","v":0.00068},{"s":"G","t":"21:20","v":0.00064},{"s":"G","t":"21:25","v":0.00074},
      {"s":"G","t":"21:30","v":0.00079},{"s":"G","t":"21:35","v":0.00101},{"s":"G","t":"21:40","v":0.00118},{"s":"G","t":"21:45","v":0.00079},
      {"s":"G","t":"21:50","v":0.00118},{"s":"G","t":"21:55","v":0.00097},{"s":"G","t":"22:00","v":0.00097}
    ]
  },
  "spacing": 39,
  "resolve": {"scale": {"color": "independent"}},
  "vconcat": [
    {
      "width": 725,
      "height": 588,
      "resolve": {"scale": {"x": "independent", "y": "independent"}},
      "layer": [
        {
          "data": {"name": "top", "format": {"parse": {"t": "date:'%H:%M'"}}},
          "mark": {"type": "line", "interpolate": "step-after", "strokeWidth": 2.6, "clip": true},
          "encoding": {
            "x": {
              "field": "t", "type": "temporal",
              "scale": {"domain": [{"year": 1900, "month": 1, "date": 1, "hours": 10}, {"year": 1900, "month": 1, "date": 1, "hours": 22}], "nice": false},
              "axis": {"orient": "bottom", "tickCount": 12, "labels": false, "tickSize": 11, "offset": -11, "title": null}
            },
            "y": {
              "field": "v", "type": "quantitative",
              "scale": {"type": "log", "domain": [0.01, 5000], "nice": false},
              "axis": {
                "orient": "left",
                "values": [0.01,0.02,0.03,0.04,0.05,0.06,0.07,0.08,0.09,0.1,0.2,0.3,0.4,0.5,0.6,0.7,0.8,0.9,1,2,3,4,5,6,7,8,9,10,20,30,40,50,60,70,80,90,100,200,300,400,500,600,700,800,900,1000,2000,3000,4000],
                "labelExpr": "datum.value == 0.01 ? '10⁻²' : datum.value == 0.1 ? '10⁻¹' : datum.value == 1 ? '10⁰' : datum.value == 10 ? '10¹' : datum.value == 100 ? '10²' : datum.value == 1000 ? '10³' : ''",
                "labelOverlap": false, "tickSize": 12, "offset": -12, "labelPadding": 8,
                "title": "Diff. e- flux /cm²/sr/s/MeV", "titlePadding": 8
              }
            },
            "color": {
              "field": "s", "type": "nominal",
              "scale": {"domain": ["P", "R", "B", "G"], "range": ["#8b008b", "#ff0000", "#1e90ff", "#228b22"]},
              "legend": {
                "title": null,
                "labelExpr": "datum.label == 'P' ? ['PSP/EPI_Lo omni.', '125 - 155 keV', '(count rate)', '*multiplied by 300'] : datum.label == 'R' ? ['STEREO-A/SEPT omni.', '165 - 335 keV'] : datum.label == 'B' ? ['SolO/EPT omni.', '168 - 334 keV'] : ['SOHO/EPHIN', '250 - 700 keV', '(count rate)']"
              }
            }
          }
        },
        {
          "data": {"values": [{"t": "13:39"}, {"t": "13:40"}, {"t": "15:36"}], "format": {"parse": {"t": "date:'%H:%M'"}}},
          "mark": {"type": "rule", "color": "black", "strokeWidth": 2.5, "strokeDash": [9, 4]},
          "encoding": {
            "x": {
              "field": "t", "type": "temporal",
              "scale": {"domain": [{"year": 1900, "month": 1, "date": 1, "hours": 10}, {"year": 1900, "month": 1, "date": 1, "hours": 22}], "nice": false},
              "axis": {"orient": "top", "tickCount": 12, "labels": false, "tickSize": 11, "offset": -11, "title": null}
            }
          }
        },
        {
          "data": {"values": [{"t": "13:40", "lab": "13:40"}], "format": {"parse": {"t": "date:'%H:%M'"}}},
          "mark": {"type": "text", "align": "right", "baseline": "middle", "dx": -8, "fontSize": 25, "font": "DejaVu Sans", "color": "black"},
          "encoding": {
            "x": {
              "field": "t", "type": "temporal",
              "scale": {"domain": [{"year": 1900, "month": 1, "date": 1, "hours": 10}, {"year": 1900, "month": 1, "date": 1, "hours": 22}], "nice": false},
              "axis": null
            },
            "y": {
              "datum": 2000, "type": "quantitative",
              "scale": {"type": "log", "domain": [0.01, 5000], "nice": false},
              "axis": {"orient": "right", "values": [0.01,0.02,0.03,0.04,0.05,0.06,0.07,0.08,0.09,0.1,0.2,0.3,0.4,0.5,0.6,0.7,0.8,0.9,1,2,3,4,5,6,7,8,9,10,20,30,40,50,60,70,80,90,100,200,300,400,500,600,700,800,900,1000,2000,3000,4000], "labels": false, "tickSize": 12, "offset": -12, "title": null}
            },
            "text": {"field": "lab"}
          }
        },
        {
          "data": {"values": [{"t": "13:39", "lab": "13:39"}, {"t": "15:36", "lab": "15:36"}], "format": {"parse": {"t": "date:'%H:%M'"}}},
          "mark": {"type": "text", "align": "left", "baseline": "middle", "dx": 8, "fontSize": 25, "font": "DejaVu Sans", "color": "black"},
          "encoding": {
            "x": {
              "field": "t", "type": "temporal",
              "scale": {"domain": [{"year": 1900, "month": 1, "date": 1, "hours": 10}, {"year": 1900, "month": 1, "date": 1, "hours": 22}], "nice": false},
              "axis": null
            },
            "y": {"datum": 2000, "type": "quantitative", "scale": {"type": "log", "domain": [0.01, 5000], "nice": false}, "axis": null},
            "text": {"field": "lab"}
          }
        }
      ]
    },
    {
      "width": 725,
      "height": 588,
      "resolve": {"scale": {"x": "independent", "y": "independent"}},
      "layer": [
        {
          "data": {"name": "bot", "format": {"parse": {"t": "date:'%H:%M'"}}},
          "mark": {"type": "line", "interpolate": "step-after", "strokeWidth": 2.6, "clip": true},
          "encoding": {
            "x": {
              "field": "t", "type": "temporal",
              "scale": {"domain": [{"year": 1900, "month": 1, "date": 1, "hours": 10}, {"year": 1900, "month": 1, "date": 1, "hours": 22}], "nice": false},
              "axis": {
                "orient": "bottom", "tickCount": 12,
                "labelExpr": "hours(datum.value) % 2 == 0 ? timeFormat(datum.value, '%H:%M') : ''",
                "labelOverlap": false, "labelPadding": 5, "tickSize": 11, "offset": -11,
                "title": "Date (UT)", "titlePadding": 6
              }
            },
            "y": {
              "field": "v", "type": "quantitative",
              "scale": {"type": "log", "domain": [0.00004, 500], "nice": false},
              "axis": {
                "orient": "left",
                "values": [0.00005,0.00006,0.00007,0.00008,0.00009,0.0001,0.0002,0.0003,0.0004,0.0005,0.0006,0.0007,0.0008,0.0009,0.001,0.002,0.003,0.004,0.005,0.006,0.007,0.008,0.009,0.01,0.02,0.03,0.04,0.05,0.06,0.07,0.08,0.09,0.1,0.2,0.3,0.4,0.5,0.6,0.7,0.8,0.9,1,2,3,4,5,6,7,8,9,10,20,30,40,50,60,70,80,90,100,200,300,400],
                "labelExpr": "datum.value == 0.0001 ? '10⁻⁴' : datum.value == 0.001 ? '10⁻³' : datum.value == 0.01 ? '10⁻²' : datum.value == 0.1 ? '10⁻¹' : datum.value == 1 ? '10⁰' : datum.value == 10 ? '10¹' : datum.value == 100 ? '10²' : ''",
                "labelOverlap": false, "tickSize": 12, "offset": -12, "labelPadding": 8,
                "title": "Diff. p+ flux /cm²/sr/s/MeV", "titlePadding": 8
              }
            },
            "color": {
              "field": "s", "type": "nominal",
              "scale": {"domain": ["P", "R", "B", "G"], "range": ["#8b008b", "#ff0000", "#1e90ff", "#228b22"]},
              "legend": {
                "title": null,
                "labelExpr": "datum.label == 'P' ? ['PSP/EPI_Hi omni.', '8 - 16 MeV', '(count rate)'] : datum.label == 'R' ? ['STEREO/HET', '13.6 - 19.3 MeV'] : datum.label == 'B' ? ['SolO/HET omni.', '13.7 - 21.2 MeV'] : ['SOHO/ERNE', '13 - 20 MeV']"
              }
            }
          }
        },
        {
          "data": {"values": [{"t": "14:35"}, {"t": "15:40"}, {"t": "19:50"}], "format": {"parse": {"t": "date:'%H:%M'"}}},
          "mark": {"type": "rule", "color": "black", "strokeWidth": 2.5, "strokeDash": [9, 4]},
          "encoding": {
            "x": {
              "field": "t", "type": "temporal",
              "scale": {"domain": [{"year": 1900, "month": 1, "date": 1, "hours": 10}, {"year": 1900, "month": 1, "date": 1, "hours": 22}], "nice": false},
              "axis": {"orient": "top", "tickCount": 12, "labels": false, "tickSize": 11, "offset": -11, "title": null}
            }
          }
        },
        {
          "data": {"values": [{"t": "14:35", "lab": "14:35"}], "format": {"parse": {"t": "date:'%H:%M'"}}},
          "mark": {"type": "text", "align": "right", "baseline": "middle", "dx": -10, "fontSize": 25, "font": "DejaVu Sans", "color": "black"},
          "encoding": {
            "x": {
              "field": "t", "type": "temporal",
              "scale": {"domain": [{"year": 1900, "month": 1, "date": 1, "hours": 10}, {"year": 1900, "month": 1, "date": 1, "hours": 22}], "nice": false},
              "axis": null
            },
            "y": {
              "datum": 200, "type": "quantitative",
              "scale": {"type": "log", "domain": [0.00004, 500], "nice": false},
              "axis": {"orient": "right", "values": [0.00005,0.00006,0.00007,0.00008,0.00009,0.0001,0.0002,0.0003,0.0004,0.0005,0.0006,0.0007,0.0008,0.0009,0.001,0.002,0.003,0.004,0.005,0.006,0.007,0.008,0.009,0.01,0.02,0.03,0.04,0.05,0.06,0.07,0.08,0.09,0.1,0.2,0.3,0.4,0.5,0.6,0.7,0.8,0.9,1,2,3,4,5,6,7,8,9,10,20,30,40,50,60,70,80,90,100,200,300,400], "labels": false, "tickSize": 12, "offset": -12, "title": null}
            },
            "text": {"field": "lab"}
          }
        },
        {
          "data": {"values": [{"t": "15:40", "lab": "15:40"}, {"t": "19:50", "lab": "19:50"}], "format": {"parse": {"t": "date:'%H:%M'"}}},
          "mark": {"type": "text", "align": "left", "baseline": "middle", "dx": 11, "fontSize": 25, "font": "DejaVu Sans", "color": "black"},
          "encoding": {
            "x": {
              "field": "t", "type": "temporal",
              "scale": {"domain": [{"year": 1900, "month": 1, "date": 1, "hours": 10}, {"year": 1900, "month": 1, "date": 1, "hours": 22}], "nice": false},
              "axis": null
            },
            "y": {"datum": 200, "type": "quantitative", "scale": {"type": "log", "domain": [0.00004, 500], "nice": false}, "axis": null},
            "text": {"field": "lab"}
          }
        },
        {
          "data": {"values": [{"t": "22:00", "lab": "2020-Nov-29"}], "format": {"parse": {"t": "date:'%H:%M'"}}},
          "mark": {"type": "text", "align": "right", "baseline": "middle", "dy": 51, "fontSize": 25, "font": "DejaVu Sans", "color": "black"},
          "encoding": {
            "x": {
              "field": "t", "type": "temporal",
              "scale": {"domain": [{"year": 1900, "month": 1, "date": 1, "hours": 10}, {"year": 1900, "month": 1, "date": 1, "hours": 22}], "nice": false},
              "axis": null
            },
            "y": {"datum": 0.00004, "type": "quantitative", "scale": {"type": "log", "domain": [0.00004, 500], "nice": false}, "axis": null},
            "text": {"field": "lab"}
          }
        }
      ]
    }
  ]
}
